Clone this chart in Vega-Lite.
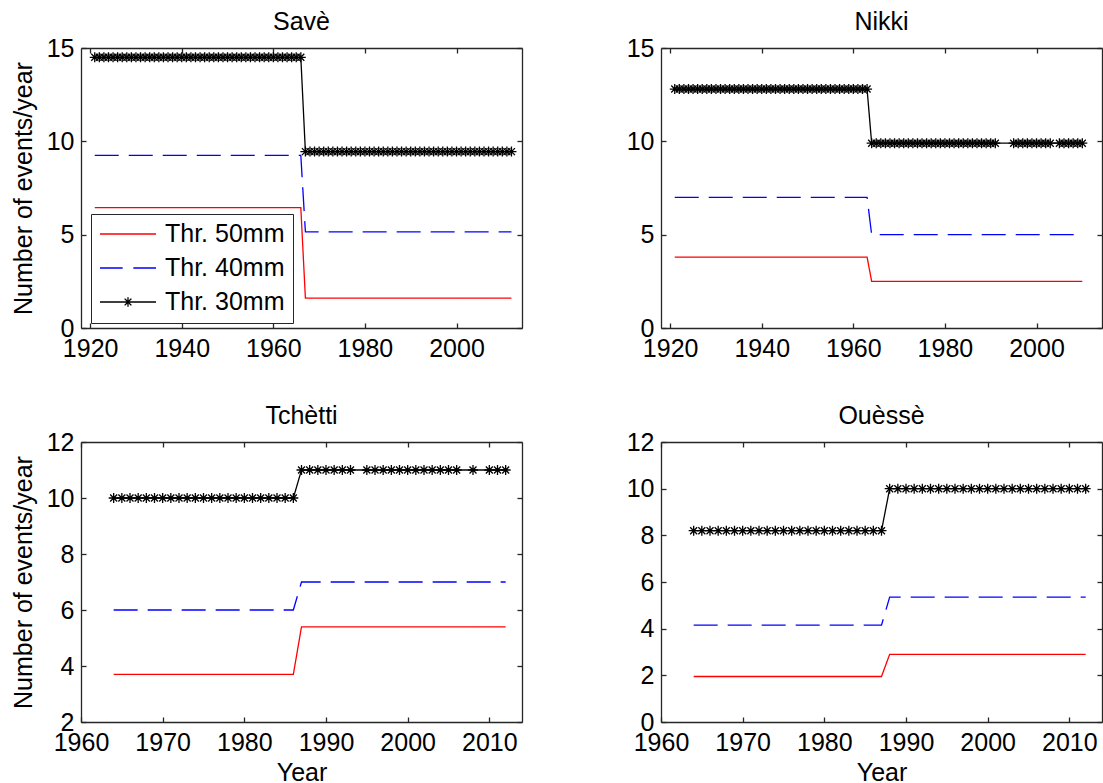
{
"$schema": "https://vega.github.io/schema/vega-lite/v6.json",
"background": "white",
"padding": {"left": 11, "top": 10, "right": 0, "bottom": 0},
"config": {
  "font": "Liberation Sans",
  "view": {"stroke": null},
  "axis": {"grid": false, "domainColor": "#262626", "domainWidth": 1.3, "tickColor": "#262626", "tickWidth": 1.3, "tickSize": -5, "labelFont": "Liberation Sans", "labelFontSize": 25, "labelColor": "#000000", "labelFlush": false, "labelOverlap": false, "titleFont": "Liberation Sans", "titleFontSize": 25, "titleFontWeight": "normal", "titleColor": "#000000", "format": "d"},
  "title": {"font": "Liberation Sans", "fontSize": 25, "fontWeight": "normal", "color": "#000000", "anchor": "middle", "frame": "group", "offset": 1, "baseline": "bottom"}
},
"data": {"values": [
{"site":"Savè","thr":"Thr. 50mm","year":1921,"n":6.45},{"site":"Savè","thr":"Thr. 50mm","year":1966,"n":6.45},{"site":"Savè","thr":"Thr. 50mm","year":1967,"n":1.6},{"site":"Savè","thr":"Thr. 50mm","year":2012,"n":1.6},
{"site":"Savè","thr":"Thr. 40mm","year":1921,"n":9.25},{"site":"Savè","thr":"Thr. 40mm","year":1966,"n":9.25},{"site":"Savè","thr":"Thr. 40mm","year":1967,"n":5.15},{"site":"Savè","thr":"Thr. 40mm","year":2012,"n":5.15},
{"site":"Savè","thr":"Thr. 30mm","year":1921,"n":14.5},{"site":"Savè","thr":"Thr. 30mm","year":1922,"n":14.5},{"site":"Savè","thr":"Thr. 30mm","year":1923,"n":14.5},{"site":"Savè","thr":"Thr. 30mm","year":1924,"n":14.5},{"site":"Savè","thr":"Thr. 30mm","year":1925,"n":14.5},{"site":"Savè","thr":"Thr. 30mm","year":1926,"n":14.5},{"site":"Savè","thr":"Thr. 30mm","year":1927,"n":14.5},{"site":"Savè","thr":"Thr. 30mm","year":1928,"n":14.5},{"site":"Savè","thr":"Thr. 30mm","year":1929,"n":14.5},{"site":"Savè","thr":"Thr. 30mm","year":1930,"n":14.5},
{"site":"Savè","thr":"Thr. 30mm","year":1931,"n":14.5},{"site":"Savè","thr":"Thr. 30mm","year":1932,"n":14.5},{"site":"Savè","thr":"Thr. 30mm","year":1933,"n":14.5},{"site":"Savè","thr":"Thr. 30mm","year":1934,"n":14.5},{"site":"Savè","thr":"Thr. 30mm","year":1935,"n":14.5},{"site":"Savè","thr":"Thr. 30mm","year":1936,"n":14.5},{"site":"Savè","thr":"Thr. 30mm","year":1937,"n":14.5},{"site":"Savè","thr":"Thr. 30mm","year":1938,"n":14.5},{"site":"Savè","thr":"Thr. 30mm","year":1939,"n":14.5},{"site":"Savè","thr":"Thr. 30mm","year":1940,"n":14.5},
{"site":"Savè","thr":"Thr. 30mm","year":1941,"n":14.5},{"site":"Savè","thr":"Thr. 30mm","year":1942,"n":14.5},{"site":"Savè","thr":"Thr. 30mm","year":1943,"n":14.5},{"site":"Savè","thr":"Thr. 30mm","year":1944,"n":14.5},{"site":"Savè","thr":"Thr. 30mm","year":1945,"n":14.5},{"site":"Savè","thr":"Thr. 30mm","year":1946,"n":14.5},{"site":"Savè","thr":"Thr. 30mm","year":1947,"n":14.5},{"site":"Savè","thr":"Thr. 30mm","year":1948,"n":14.5},{"site":"Savè","thr":"Thr. 30mm","year":1949,"n":14.5},{"site":"Savè","thr":"Thr. 30mm","year":1950,"n":14.5},
{"site":"Savè","thr":"Thr. 30mm","year":1951,"n":14.5},{"site":"Savè","thr":"Thr. 30mm","year":1952,"n":14.5},{"site":"Savè","thr":"Thr. 30mm","year":1953,"n":14.5},{"site":"Savè","thr":"Thr. 30mm","year":1954,"n":14.5},{"site":"Savè","thr":"Thr. 30mm","year":1955,"n":14.5},{"site":"Savè","thr":"Thr. 30mm","year":1956,"n":14.5},{"site":"Savè","thr":"Thr. 30mm","year":1957,"n":14.5},{"site":"Savè","thr":"Thr. 30mm","year":1958,"n":14.5},{"site":"Savè","thr":"Thr. 30mm","year":1959,"n":14.5},{"site":"Savè","thr":"Thr. 30mm","year":1960,"n":14.5},
{"site":"Savè","thr":"Thr. 30mm","year":1961,"n":14.5},{"site":"Savè","thr":"Thr. 30mm","year":1962,"n":14.5},{"site":"Savè","thr":"Thr. 30mm","year":1963,"n":14.5},{"site":"Savè","thr":"Thr. 30mm","year":1964,"n":14.5},{"site":"Savè","thr":"Thr. 30mm","year":1965,"n":14.5},{"site":"Savè","thr":"Thr. 30mm","year":1966,"n":14.5},
{"site":"Savè","thr":"Thr. 30mm","year":1967,"n":9.45},{"site":"Savè","thr":"Thr. 30mm","year":1968,"n":9.45},{"site":"Savè","thr":"Thr. 30mm","year":1969,"n":9.45},{"site":"Savè","thr":"Thr. 30mm","year":1970,"n":9.45},
{"site":"Savè","thr":"Thr. 30mm","year":1971,"n":9.45},{"site":"Savè","thr":"Thr. 30mm","year":1972,"n":9.45},{"site":"Savè","thr":"Thr. 30mm","year":1973,"n":9.45},{"site":"Savè","thr":"Thr. 30mm","year":1974,"n":9.45},{"site":"Savè","thr":"Thr. 30mm","year":1975,"n":9.45},{"site":"Savè","thr":"Thr. 30mm","year":1976,"n":9.45},{"site":"Savè","thr":"Thr. 30mm","year":1977,"n":9.45},{"site":"Savè","thr":"Thr. 30mm","year":1978,"n":9.45},{"site":"Savè","thr":"Thr. 30mm","year":1979,"n":9.45},{"site":"Savè","thr":"Thr. 30mm","year":1980,"n":9.45},
{"site":"Savè","thr":"Thr. 30mm","year":1981,"n":9.45},{"site":"Savè","thr":"Thr. 30mm","year":1982,"n":9.45},{"site":"Savè","thr":"Thr. 30mm","year":1983,"n":9.45},{"site":"Savè","thr":"Thr. 30mm","year":1984,"n":9.45},{"site":"Savè","thr":"Thr. 30mm","year":1985,"n":9.45},{"site":"Savè","thr":"Thr. 30mm","year":1986,"n":9.45},{"site":"Savè","thr":"Thr. 30mm","year":1987,"n":9.45},{"site":"Savè","thr":"Thr. 30mm","year":1988,"n":9.45},{"site":"Savè","thr":"Thr. 30mm","year":1989,"n":9.45},{"site":"Savè","thr":"Thr. 30mm","year":1990,"n":9.45},
{"site":"Savè","thr":"Thr. 30mm","year":1991,"n":9.45},{"site":"Savè","thr":"Thr. 30mm","year":1992,"n":9.45},{"site":"Savè","thr":"Thr. 30mm","year":1993,"n":9.45},{"site":"Savè","thr":"Thr. 30mm","year":1994,"n":9.45},{"site":"Savè","thr":"Thr. 30mm","year":1995,"n":9.45},{"site":"Savè","thr":"Thr. 30mm","year":1996,"n":9.45},{"site":"Savè","thr":"Thr. 30mm","year":1997,"n":9.45},{"site":"Savè","thr":"Thr. 30mm","year":1998,"n":9.45},{"site":"Savè","thr":"Thr. 30mm","year":1999,"n":9.45},{"site":"Savè","thr":"Thr. 30mm","year":2000,"n":9.45},
{"site":"Savè","thr":"Thr. 30mm","year":2001,"n":9.45},{"site":"Savè","thr":"Thr. 30mm","year":2002,"n":9.45},{"site":"Savè","thr":"Thr. 30mm","year":2003,"n":9.45},{"site":"Savè","thr":"Thr. 30mm","year":2004,"n":9.45},{"site":"Savè","thr":"Thr. 30mm","year":2005,"n":9.45},{"site":"Savè","thr":"Thr. 30mm","year":2006,"n":9.45},{"site":"Savè","thr":"Thr. 30mm","year":2007,"n":9.45},{"site":"Savè","thr":"Thr. 30mm","year":2008,"n":9.45},{"site":"Savè","thr":"Thr. 30mm","year":2009,"n":9.45},{"site":"Savè","thr":"Thr. 30mm","year":2010,"n":9.45},
{"site":"Savè","thr":"Thr. 30mm","year":2011,"n":9.45},{"site":"Savè","thr":"Thr. 30mm","year":2012,"n":9.45},
{"site":"Nikki","thr":"Thr. 50mm","year":1921,"n":3.8},{"site":"Nikki","thr":"Thr. 50mm","year":1963,"n":3.8},{"site":"Nikki","thr":"Thr. 50mm","year":1964,"n":2.5},{"site":"Nikki","thr":"Thr. 50mm","year":2010,"n":2.5},
{"site":"Nikki","thr":"Thr. 40mm","year":1921,"n":7.0},{"site":"Nikki","thr":"Thr. 40mm","year":1963,"n":7.0},{"site":"Nikki","thr":"Thr. 40mm","year":1964,"n":5.0},{"site":"Nikki","thr":"Thr. 40mm","year":2010,"n":5.0},
{"site":"Nikki","thr":"Thr. 30mm","year":1921,"n":12.8},{"site":"Nikki","thr":"Thr. 30mm","year":1922,"n":12.8},{"site":"Nikki","thr":"Thr. 30mm","year":1923,"n":12.8},{"site":"Nikki","thr":"Thr. 30mm","year":1924,"n":12.8},{"site":"Nikki","thr":"Thr. 30mm","year":1925,"n":12.8},{"site":"Nikki","thr":"Thr. 30mm","year":1926,"n":12.8},{"site":"Nikki","thr":"Thr. 30mm","year":1927,"n":12.8},{"site":"Nikki","thr":"Thr. 30mm","year":1928,"n":12.8},{"site":"Nikki","thr":"Thr. 30mm","year":1929,"n":12.8},{"site":"Nikki","thr":"Thr. 30mm","year":1930,"n":12.8},
{"site":"Nikki","thr":"Thr. 30mm","year":1931,"n":12.8},{"site":"Nikki","thr":"Thr. 30mm","year":1932,"n":12.8},{"site":"Nikki","thr":"Thr. 30mm","year":1933,"n":12.8},{"site":"Nikki","thr":"Thr. 30mm","year":1934,"n":12.8},{"site":"Nikki","thr":"Thr. 30mm","year":1935,"n":12.8},{"site":"Nikki","thr":"Thr. 30mm","year":1936,"n":12.8},{"site":"Nikki","thr":"Thr. 30mm","year":1937,"n":12.8},{"site":"Nikki","thr":"Thr. 30mm","year":1938,"n":12.8},{"site":"Nikki","thr":"Thr. 30mm","year":1939,"n":12.8},{"site":"Nikki","thr":"Thr. 30mm","year":1940,"n":12.8},
{"site":"Nikki","thr":"Thr. 30mm","year":1941,"n":12.8},{"site":"Nikki","thr":"Thr. 30mm","year":1942,"n":12.8},{"site":"Nikki","thr":"Thr. 30mm","year":1943,"n":12.8},{"site":"Nikki","thr":"Thr. 30mm","year":1944,"n":12.8},{"site":"Nikki","thr":"Thr. 30mm","year":1945,"n":12.8},{"site":"Nikki","thr":"Thr. 30mm","year":1946,"n":12.8},{"site":"Nikki","thr":"Thr. 30mm","year":1947,"n":12.8},{"site":"Nikki","thr":"Thr. 30mm","year":1948,"n":12.8},{"site":"Nikki","thr":"Thr. 30mm","year":1949,"n":12.8},{"site":"Nikki","thr":"Thr. 30mm","year":1950,"n":12.8},
{"site":"Nikki","thr":"Thr. 30mm","year":1951,"n":12.8},{"site":"Nikki","thr":"Thr. 30mm","year":1952,"n":12.8},{"site":"Nikki","thr":"Thr. 30mm","year":1953,"n":12.8},{"site":"Nikki","thr":"Thr. 30mm","year":1954,"n":12.8},{"site":"Nikki","thr":"Thr. 30mm","year":1955,"n":12.8},{"site":"Nikki","thr":"Thr. 30mm","year":1956,"n":12.8},{"site":"Nikki","thr":"Thr. 30mm","year":1957,"n":12.8},{"site":"Nikki","thr":"Thr. 30mm","year":1958,"n":12.8},{"site":"Nikki","thr":"Thr. 30mm","year":1959,"n":12.8},{"site":"Nikki","thr":"Thr. 30mm","year":1960,"n":12.8},
{"site":"Nikki","thr":"Thr. 30mm","year":1961,"n":12.8},{"site":"Nikki","thr":"Thr. 30mm","year":1962,"n":12.8},{"site":"Nikki","thr":"Thr. 30mm","year":1963,"n":12.8},
{"site":"Nikki","thr":"Thr. 30mm","year":1964,"n":9.9},{"site":"Nikki","thr":"Thr. 30mm","year":1965,"n":9.9},{"site":"Nikki","thr":"Thr. 30mm","year":1966,"n":9.9},{"site":"Nikki","thr":"Thr. 30mm","year":1967,"n":9.9},{"site":"Nikki","thr":"Thr. 30mm","year":1968,"n":9.9},{"site":"Nikki","thr":"Thr. 30mm","year":1969,"n":9.9},{"site":"Nikki","thr":"Thr. 30mm","year":1970,"n":9.9},
{"site":"Nikki","thr":"Thr. 30mm","year":1971,"n":9.9},{"site":"Nikki","thr":"Thr. 30mm","year":1972,"n":9.9},{"site":"Nikki","thr":"Thr. 30mm","year":1973,"n":9.9},{"site":"Nikki","thr":"Thr. 30mm","year":1974,"n":9.9},{"site":"Nikki","thr":"Thr. 30mm","year":1975,"n":9.9},{"site":"Nikki","thr":"Thr. 30mm","year":1976,"n":9.9},{"site":"Nikki","thr":"Thr. 30mm","year":1977,"n":9.9},{"site":"Nikki","thr":"Thr. 30mm","year":1978,"n":9.9},{"site":"Nikki","thr":"Thr. 30mm","year":1979,"n":9.9},{"site":"Nikki","thr":"Thr. 30mm","year":1980,"n":9.9},
{"site":"Nikki","thr":"Thr. 30mm","year":1981,"n":9.9},{"site":"Nikki","thr":"Thr. 30mm","year":1982,"n":9.9},{"site":"Nikki","thr":"Thr. 30mm","year":1983,"n":9.9},{"site":"Nikki","thr":"Thr. 30mm","year":1984,"n":9.9},{"site":"Nikki","thr":"Thr. 30mm","year":1985,"n":9.9},{"site":"Nikki","thr":"Thr. 30mm","year":1986,"n":9.9},{"site":"Nikki","thr":"Thr. 30mm","year":1987,"n":9.9},{"site":"Nikki","thr":"Thr. 30mm","year":1988,"n":9.9},{"site":"Nikki","thr":"Thr. 30mm","year":1989,"n":9.9},{"site":"Nikki","thr":"Thr. 30mm","year":1990,"n":9.9},
{"site":"Nikki","thr":"Thr. 30mm","year":1991,"n":9.9},{"site":"Nikki","thr":"Thr. 30mm","year":1995,"n":9.9},{"site":"Nikki","thr":"Thr. 30mm","year":1996,"n":9.9},{"site":"Nikki","thr":"Thr. 30mm","year":1997,"n":9.9},{"site":"Nikki","thr":"Thr. 30mm","year":1998,"n":9.9},{"site":"Nikki","thr":"Thr. 30mm","year":1999,"n":9.9},{"site":"Nikki","thr":"Thr. 30mm","year":2000,"n":9.9},
{"site":"Nikki","thr":"Thr. 30mm","year":2001,"n":9.9},{"site":"Nikki","thr":"Thr. 30mm","year":2002,"n":9.9},{"site":"Nikki","thr":"Thr. 30mm","year":2003,"n":9.9},{"site":"Nikki","thr":"Thr. 30mm","year":2005,"n":9.9},{"site":"Nikki","thr":"Thr. 30mm","year":2006,"n":9.9},{"site":"Nikki","thr":"Thr. 30mm","year":2007,"n":9.9},{"site":"Nikki","thr":"Thr. 30mm","year":2008,"n":9.9},{"site":"Nikki","thr":"Thr. 30mm","year":2009,"n":9.9},{"site":"Nikki","thr":"Thr. 30mm","year":2010,"n":9.9},
{"site":"Tchètti","thr":"Thr. 50mm","year":1964,"n":3.7},{"site":"Tchètti","thr":"Thr. 50mm","year":1986,"n":3.7},{"site":"Tchètti","thr":"Thr. 50mm","year":1987,"n":5.4},{"site":"Tchètti","thr":"Thr. 50mm","year":2012,"n":5.4},
{"site":"Tchètti","thr":"Thr. 40mm","year":1964,"n":6.0},{"site":"Tchètti","thr":"Thr. 40mm","year":1986,"n":6.0},{"site":"Tchètti","thr":"Thr. 40mm","year":1987,"n":7.0},{"site":"Tchètti","thr":"Thr. 40mm","year":2012,"n":7.0},
{"site":"Tchètti","thr":"Thr. 30mm","year":1964,"n":10},{"site":"Tchètti","thr":"Thr. 30mm","year":1965,"n":10},{"site":"Tchètti","thr":"Thr. 30mm","year":1966,"n":10},{"site":"Tchètti","thr":"Thr. 30mm","year":1967,"n":10},{"site":"Tchètti","thr":"Thr. 30mm","year":1968,"n":10},{"site":"Tchètti","thr":"Thr. 30mm","year":1969,"n":10},{"site":"Tchètti","thr":"Thr. 30mm","year":1970,"n":10},
{"site":"Tchètti","thr":"Thr. 30mm","year":1971,"n":10},{"site":"Tchètti","thr":"Thr. 30mm","year":1972,"n":10},{"site":"Tchètti","thr":"Thr. 30mm","year":1973,"n":10},{"site":"Tchètti","thr":"Thr. 30mm","year":1974,"n":10},{"site":"Tchètti","thr":"Thr. 30mm","year":1975,"n":10},{"site":"Tchètti","thr":"Thr. 30mm","year":1976,"n":10},{"site":"Tchètti","thr":"Thr. 30mm","year":1977,"n":10},{"site":"Tchètti","thr":"Thr. 30mm","year":1978,"n":10},{"site":"Tchètti","thr":"Thr. 30mm","year":1979,"n":10},{"site":"Tchètti","thr":"Thr. 30mm","year":1980,"n":10},
{"site":"Tchètti","thr":"Thr. 30mm","year":1981,"n":10},{"site":"Tchètti","thr":"Thr. 30mm","year":1982,"n":10},{"site":"Tchètti","thr":"Thr. 30mm","year":1983,"n":10},{"site":"Tchètti","thr":"Thr. 30mm","year":1984,"n":10},{"site":"Tchètti","thr":"Thr. 30mm","year":1985,"n":10},{"site":"Tchètti","thr":"Thr. 30mm","year":1986,"n":10},
{"site":"Tchètti","thr":"Thr. 30mm","year":1987,"n":11},{"site":"Tchètti","thr":"Thr. 30mm","year":1988,"n":11},{"site":"Tchètti","thr":"Thr. 30mm","year":1989,"n":11},{"site":"Tchètti","thr":"Thr. 30mm","year":1990,"n":11},{"site":"Tchètti","thr":"Thr. 30mm","year":1991,"n":11},{"site":"Tchètti","thr":"Thr. 30mm","year":1992,"n":11},{"site":"Tchètti","thr":"Thr. 30mm","year":1993,"n":11},
{"site":"Tchètti","thr":"Thr. 30mm","year":1995,"n":11},{"site":"Tchètti","thr":"Thr. 30mm","year":1996,"n":11},{"site":"Tchètti","thr":"Thr. 30mm","year":1997,"n":11},{"site":"Tchètti","thr":"Thr. 30mm","year":1998,"n":11},{"site":"Tchètti","thr":"Thr. 30mm","year":1999,"n":11},{"site":"Tchètti","thr":"Thr. 30mm","year":2000,"n":11},{"site":"Tchètti","thr":"Thr. 30mm","year":2001,"n":11},{"site":"Tchètti","thr":"Thr. 30mm","year":2002,"n":11},{"site":"Tchètti","thr":"Thr. 30mm","year":2003,"n":11},{"site":"Tchètti","thr":"Thr. 30mm","year":2004,"n":11},{"site":"Tchètti","thr":"Thr. 30mm","year":2005,"n":11},{"site":"Tchètti","thr":"Thr. 30mm","year":2006,"n":11},
{"site":"Tchètti","thr":"Thr. 30mm","year":2008,"n":11},{"site":"Tchètti","thr":"Thr. 30mm","year":2010,"n":11},{"site":"Tchètti","thr":"Thr. 30mm","year":2011,"n":11},{"site":"Tchètti","thr":"Thr. 30mm","year":2012,"n":11},
{"site":"Ouèssè","thr":"Thr. 50mm","year":1964,"n":1.95},{"site":"Ouèssè","thr":"Thr. 50mm","year":1987,"n":1.95},{"site":"Ouèssè","thr":"Thr. 50mm","year":1988,"n":2.9},{"site":"Ouèssè","thr":"Thr. 50mm","year":2012,"n":2.9},
{"site":"Ouèssè","thr":"Thr. 40mm","year":1964,"n":4.15},{"site":"Ouèssè","thr":"Thr. 40mm","year":1987,"n":4.15},{"site":"Ouèssè","thr":"Thr. 40mm","year":1988,"n":5.35},{"site":"Ouèssè","thr":"Thr. 40mm","year":2012,"n":5.35},
{"site":"Ouèssè","thr":"Thr. 30mm","year":1964,"n":8.2},{"site":"Ouèssè","thr":"Thr. 30mm","year":1965,"n":8.2},{"site":"Ouèssè","thr":"Thr. 30mm","year":1966,"n":8.2},{"site":"Ouèssè","thr":"Thr. 30mm","year":1967,"n":8.2},{"site":"Ouèssè","thr":"Thr. 30mm","year":1968,"n":8.2},{"site":"Ouèssè","thr":"Thr. 30mm","year":1969,"n":8.2},{"site":"Ouèssè","thr":"Thr. 30mm","year":1970,"n":8.2},
{"site":"Ouèssè","thr":"Thr. 30mm","year":1971,"n":8.2},{"site":"Ouèssè","thr":"Thr. 30mm","year":1972,"n":8.2},{"site":"Ouèssè","thr":"Thr. 30mm","year":1973,"n":8.2},{"site":"Ouèssè","thr":"Thr. 30mm","year":1974,"n":8.2},{"site":"Ouèssè","thr":"Thr. 30mm","year":1975,"n":8.2},{"site":"Ouèssè","thr":"Thr. 30mm","year":1976,"n":8.2},{"site":"Ouèssè","thr":"Thr. 30mm","year":1977,"n":8.2},{"site":"Ouèssè","thr":"Thr. 30mm","year":1978,"n":8.2},{"site":"Ouèssè","thr":"Thr. 30mm","year":1979,"n":8.2},{"site":"Ouèssè","thr":"Thr. 30mm","year":1980,"n":8.2},
{"site":"Ouèssè","thr":"Thr. 30mm","year":1981,"n":8.2},{"site":"Ouèssè","thr":"Thr. 30mm","year":1982,"n":8.2},{"site":"Ouèssè","thr":"Thr. 30mm","year":1983,"n":8.2},{"site":"Ouèssè","thr":"Thr. 30mm","year":1984,"n":8.2},{"site":"Ouèssè","thr":"Thr. 30mm","year":1985,"n":8.2},{"site":"Ouèssè","thr":"Thr. 30mm","year":1986,"n":8.2},{"site":"Ouèssè","thr":"Thr. 30mm","year":1987,"n":8.2},
{"site":"Ouèssè","thr":"Thr. 30mm","year":1988,"n":10},{"site":"Ouèssè","thr":"Thr. 30mm","year":1989,"n":10},{"site":"Ouèssè","thr":"Thr. 30mm","year":1990,"n":10},{"site":"Ouèssè","thr":"Thr. 30mm","year":1991,"n":10},{"site":"Ouèssè","thr":"Thr. 30mm","year":1992,"n":10},{"site":"Ouèssè","thr":"Thr. 30mm","year":1993,"n":10},{"site":"Ouèssè","thr":"Thr. 30mm","year":1994,"n":10},{"site":"Ouèssè","thr":"Thr. 30mm","year":1995,"n":10},{"site":"Ouèssè","thr":"Thr. 30mm","year":1996,"n":10},{"site":"Ouèssè","thr":"Thr. 30mm","year":1997,"n":10},{"site":"Ouèssè","thr":"Thr. 30mm","year":1998,"n":10},{"site":"Ouèssè","thr":"Thr. 30mm","year":1999,"n":10},{"site":"Ouèssè","thr":"Thr. 30mm","year":2000,"n":10},
{"site":"Ouèssè","thr":"Thr. 30mm","year":2001,"n":10},{"site":"Ouèssè","thr":"Thr. 30mm","year":2002,"n":10},{"site":"Ouèssè","thr":"Thr. 30mm","year":2003,"n":10},{"site":"Ouèssè","thr":"Thr. 30mm","year":2004,"n":10},{"site":"Ouèssè","thr":"Thr. 30mm","year":2005,"n":10},{"site":"Ouèssè","thr":"Thr. 30mm","year":2006,"n":10},{"site":"Ouèssè","thr":"Thr. 30mm","year":2007,"n":10},{"site":"Ouèssè","thr":"Thr. 30mm","year":2008,"n":10},{"site":"Ouèssè","thr":"Thr. 30mm","year":2009,"n":10},{"site":"Ouèssè","thr":"Thr. 30mm","year":2010,"n":10},
{"site":"Ouèssè","thr":"Thr. 30mm","year":2011,"n":10},{"site":"Ouèssè","thr":"Thr. 30mm","year":2012,"n":10}
]},
"columns": 2,
"spacing": {"row": 114, "column": 139},
"bounds": "flush",
"resolve": {"scale": {"color": "independent", "strokeDash": "independent", "shape": "independent"}},
"concat": [
{
  "title": "Savè",
  "width": 441, "height": 280,
  "transform": [{"filter": "datum.site === 'Savè'"}],
  "layer": [
    {"mark": {"type": "line", "strokeWidth": 1.3},
     "encoding": {
       "x": {"field": "year", "type": "quantitative", "scale": {"domain": [1918, 2014.3], "nice": false, "zero": false}, "axis": {"orient": "bottom", "values": [1920, 1940, 1960, 1980, 2000], "title": null, "labelPadding": 13}},
       "y": {"field": "n", "type": "quantitative", "scale": {"domain": [0, 15], "nice": false, "zero": false}, "axis": {"orient": "left", "values": [0, 5, 10, 15], "title": "Number of events/year", "labelPadding": 12, "titlePadding": 10}},
       "color": {"field": "thr", "type": "nominal", "scale": {"domain": ["Thr. 50mm", "Thr. 40mm", "Thr. 30mm"], "range": ["#ff0000", "#0000ff", "#000000"]},
         "legend": {"title": null, "orient": "none", "legendX": 10, "legendY": 166, "direction": "vertical", "columns": 1, "fillColor": "#ffffff", "strokeColor": "#262626", "padding": 8, "symbolSize": 3136, "symbolStrokeWidth": 1.3, "symbolType": "stroke", "labelFont": "Liberation Sans", "labelFontSize": 25, "labelColor": "#000000", "labelOffset": 8, "clipHeight": 24, "rowPadding": 9}},
       "strokeDash": {"field": "thr", "type": "nominal", "scale": {"domain": ["Thr. 50mm", "Thr. 40mm", "Thr. 30mm"], "range": [[1, 0], [24, 10], [1, 0]]}, "legend": null}
     }},
    {"transform": [{"filter": "datum.thr === 'Thr. 30mm'"}],
     "mark": {"type": "point", "shape": "M-1,0H1M0,-1V1M-0.7,-0.7L0.7,0.7M-0.7,0.7L0.7,-0.7", "size": 100, "filled": false, "strokeWidth": 1.3, "color": "#000000", "opacity": 1},
     "encoding": {
       "x": {"field": "year", "type": "quantitative", "axis": {"orient": "top", "values": [1920, 1940, 1960, 1980, 2000], "labels": false, "title": null}},
       "y": {"field": "n", "type": "quantitative", "axis": {"orient": "right", "values": [0, 5, 10, 15], "labels": false, "title": null}}
     }},
    {"transform": [{"filter": "datum.year === 2012"}],
     "mark": {"type": "point", "filled": false, "opacity": 0},
     "encoding": {
       "x": {"field": "year", "type": "quantitative", "axis": null},
       "y": {"field": "n", "type": "quantitative", "axis": null},
       "color": {"field": "thr", "type": "nominal", "scale": {"domain": ["Thr. 50mm", "Thr. 40mm", "Thr. 30mm"], "range": ["#ff0000", "#0000ff", "#000000"]},
         "legend": {"title": null, "orient": "none", "legendX": 10, "legendY": 166, "direction": "vertical", "columns": 1, "fillColor": "#ffffff", "strokeColor": "#262626", "padding": 8, "symbolSize": 3136, "symbolStrokeWidth": 1.3, "symbolType": "stroke", "labelFont": "Liberation Sans", "labelFontSize": 25, "labelColor": "#000000", "labelOffset": 8, "clipHeight": 24, "rowPadding": 9}},
       "shape": {"field": "thr", "type": "nominal", "scale": {"domain": ["Thr. 50mm", "Thr. 40mm", "Thr. 30mm"], "range": ["M-1,0H1", "M-1,0H-0.19M0.19,0H1", "M-1,0H1M0,-0.17V0.17M-0.12,-0.12L0.12,0.12M-0.12,0.12L0.12,-0.12"]},
         "legend": {"title": null, "orient": "none", "legendX": 10, "legendY": 166, "direction": "vertical", "columns": 1, "fillColor": "#ffffff", "strokeColor": "#262626", "padding": 8, "symbolSize": 3136, "symbolStrokeWidth": 1.3, "symbolType": "stroke", "labelFont": "Liberation Sans", "labelFontSize": 25, "labelColor": "#000000", "labelOffset": 8, "clipHeight": 24, "rowPadding": 9}}
     }}
  ]
},
{
  "title": "Nikki",
  "width": 441, "height": 280,
  "transform": [{"filter": "datum.site === 'Nikki'"}],
  "layer": [
    {"mark": {"type": "line", "strokeWidth": 1.3},
     "encoding": {
       "x": {"field": "year", "type": "quantitative", "scale": {"domain": [1918, 2014.3], "nice": false, "zero": false}, "axis": {"orient": "bottom", "values": [1920, 1940, 1960, 1980, 2000], "title": null, "labelPadding": 13}},
       "y": {"field": "n", "type": "quantitative", "scale": {"domain": [0, 15], "nice": false, "zero": false}, "axis": {"orient": "left", "values": [0, 5, 10, 15], "title": null, "labelPadding": 12}},
       "color": {"field": "thr", "type": "nominal", "scale": {"domain": ["Thr. 50mm", "Thr. 40mm", "Thr. 30mm"], "range": ["#ff0000", "#0000ff", "#000000"]}, "legend": null},
       "strokeDash": {"field": "thr", "type": "nominal", "scale": {"domain": ["Thr. 50mm", "Thr. 40mm", "Thr. 30mm"], "range": [[1, 0], [24, 10], [1, 0]]}, "legend": null}
     }},
    {"transform": [{"filter": "datum.thr === 'Thr. 30mm'"}],
     "mark": {"type": "point", "shape": "M-1,0H1M0,-1V1M-0.7,-0.7L0.7,0.7M-0.7,0.7L0.7,-0.7", "size": 100, "filled": false, "strokeWidth": 1.3, "color": "#000000", "opacity": 1},
     "encoding": {
       "x": {"field": "year", "type": "quantitative", "axis": {"orient": "top", "values": [1920, 1940, 1960, 1980, 2000], "labels": false, "title": null}},
       "y": {"field": "n", "type": "quantitative", "axis": {"orient": "right", "values": [0, 5, 10, 15], "labels": false, "title": null}}
     }}
  ]
},
{
  "title": "Tchètti",
  "width": 441, "height": 280,
  "transform": [{"filter": "datum.site === 'Tchètti'"}],
  "layer": [
    {"mark": {"type": "line", "strokeWidth": 1.3},
     "encoding": {
       "x": {"field": "year", "type": "quantitative", "scale": {"domain": [1960, 2014], "nice": false, "zero": false}, "axis": {"orient": "bottom", "values": [1960, 1970, 1980, 1990, 2000, 2010], "title": "Year", "labelPadding": 13, "titlePadding": 5}},
       "y": {"field": "n", "type": "quantitative", "scale": {"domain": [2, 12], "nice": false, "zero": false}, "axis": {"orient": "left", "values": [2, 4, 6, 8, 10, 12], "title": "Number of events/year", "labelPadding": 12, "titlePadding": 10}},
       "color": {"field": "thr", "type": "nominal", "scale": {"domain": ["Thr. 50mm", "Thr. 40mm", "Thr. 30mm"], "range": ["#ff0000", "#0000ff", "#000000"]}, "legend": null},
       "strokeDash": {"field": "thr", "type": "nominal", "scale": {"domain": ["Thr. 50mm", "Thr. 40mm", "Thr. 30mm"], "range": [[1, 0], [24, 10], [1, 0]]}, "legend": null}
     }},
    {"transform": [{"filter": "datum.thr === 'Thr. 30mm'"}],
     "mark": {"type": "point", "shape": "M-1,0H1M0,-1V1M-0.7,-0.7L0.7,0.7M-0.7,0.7L0.7,-0.7", "size": 100, "filled": false, "strokeWidth": 1.3, "color": "#000000", "opacity": 1},
     "encoding": {
       "x": {"field": "year", "type": "quantitative", "axis": {"orient": "top", "values": [1960, 1970, 1980, 1990, 2000, 2010], "labels": false, "title": null}},
       "y": {"field": "n", "type": "quantitative", "axis": {"orient": "right", "values": [2, 4, 6, 8, 10, 12], "labels": false, "title": null}}
     }}
  ]
},
{
  "title": "Ouèssè",
  "width": 441, "height": 280,
  "transform": [{"filter": "datum.site === 'Ouèssè'"}],
  "layer": [
    {"mark": {"type": "line", "strokeWidth": 1.3},
     "encoding": {
       "x": {"field": "year", "type": "quantitative", "scale": {"domain": [1960, 2014], "nice": false, "zero": false}, "axis": {"orient": "bottom", "values": [1960, 1970, 1980, 1990, 2000, 2010], "title": "Year", "labelPadding": 13, "titlePadding": 5}},
       "y": {"field": "n", "type": "quantitative", "scale": {"domain": [0, 12], "nice": false, "zero": false}, "axis": {"orient": "left", "values": [0, 2, 4, 6, 8, 10, 12], "title": null, "labelPadding": 12}},
       "color": {"field": "thr", "type": "nominal", "scale": {"domain": ["Thr. 50mm", "Thr. 40mm", "Thr. 30mm"], "range": ["#ff0000", "#0000ff", "#000000"]}, "legend": null},
       "strokeDash": {"field": "thr", "type": "nominal", "scale": {"domain": ["Thr. 50mm", "Thr. 40mm", "Thr. 30mm"], "range": [[1, 0], [24, 10], [1, 0]]}, "legend": null}
     }},
    {"transform": [{"filter": "datum.thr === 'Thr. 30mm'"}],
     "mark": {"type": "point", "shape": "M-1,0H1M0,-1V1M-0.7,-0.7L0.7,0.7M-0.7,0.7L0.7,-0.7", "size": 100, "filled": false, "strokeWidth": 1.3, "color": "#000000", "opacity": 1},
     "encoding": {
       "x": {"field": "year", "type": "quantitative", "axis": {"orient": "top", "values": [1960, 1970, 1980, 1990, 2000, 2010], "labels": false, "title": null}},
       "y": {"field": "n", "type": "quantitative", "axis": {"orient": "right", "values": [0, 2, 4, 6, 8, 10, 12], "labels": false, "title": null}}
     }}
  ]
}
]
}
